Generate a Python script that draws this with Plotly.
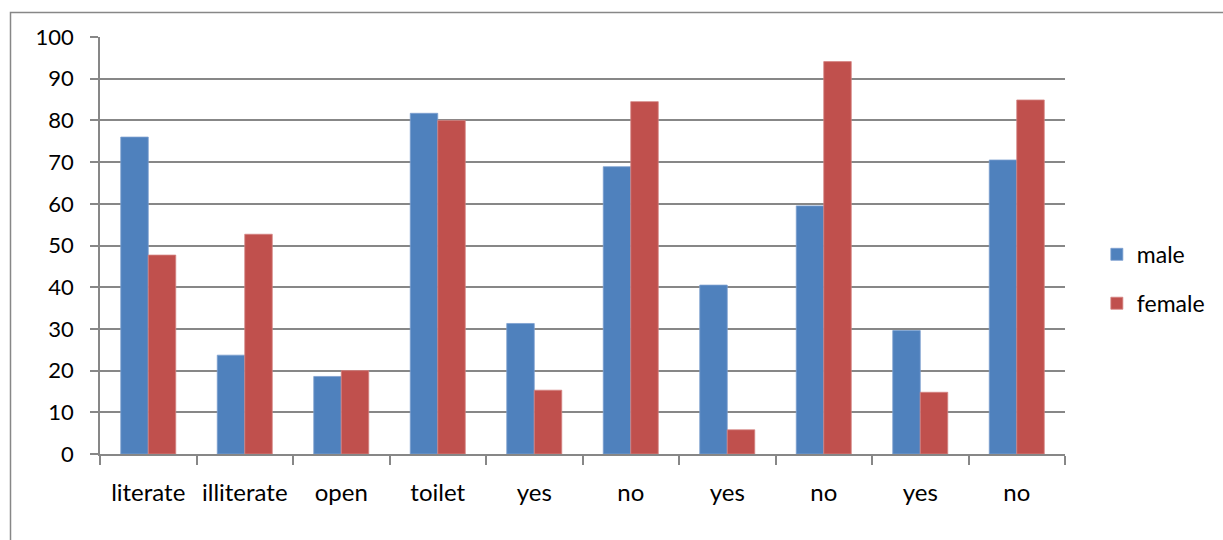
import plotly.graph_objects as go

categories = ["literate", "illiterate", "open", "toilet", "yes", "no", "yes", "no", "yes", "no"]
male = [76.0, 23.7, 18.6, 81.7, 31.3, 68.9, 40.5, 59.5, 29.6, 70.5]
female = [47.7, 52.7, 20.0, 80.0, 15.3, 84.5, 5.8, 94.1, 14.8, 84.9]
y_ticks = list(range(0, 101, 10))

x_pos = list(range(len(categories)))
GRID = "#878787"
FONT = "Lato"

fig = go.Figure()
fig.add_trace(go.Bar(x=x_pos, y=male, name="male", legendgroup="m",
                     marker=dict(color="#4F81BD", line=dict(color="#7C9FCF", width=0.8))))
fig.add_trace(go.Bar(x=x_pos, y=female, name="female", legendgroup="f",
                     marker=dict(color="#C0504D", line=dict(color="#D48381", width=0.8))))

fig.update_layout(
    width=1223, height=540,
    margin=dict(l=100, r=158, t=37, b=86),
    paper_bgcolor="white", plot_bgcolor="white",
    barmode="group", bargap=0.43, bargroupgap=0,
    font=dict(family=FONT, size=22, color="black"),
    legend=dict(x=1.033, xanchor="left", y=0.42, yanchor="middle",
                tracegroupgap=16, font=dict(family=FONT, size=23)),
    xaxis=dict(range=[-0.5, len(categories) - 0.5], tickmode="array", tickvals=x_pos,
               ticktext=categories, ticks="", showgrid=False, zeroline=False,
               showline=True, linecolor=GRID, linewidth=1.5,
               ticklabelstandoff=16, tickfont=dict(family=FONT, size=24),
               minor=dict(tickmode="array", tickvals=[i - 0.5 for i in range(len(categories) + 1)],
                          ticks="outside", ticklen=9, tickcolor=GRID, tickwidth=1.5, showgrid=False)),
    yaxis=dict(range=[0, 100], tickmode="array", tickvals=y_ticks, ticks="outside", ticklen=8,
               tickcolor=GRID, tickwidth=1.5, showgrid=True, gridcolor=GRID, gridwidth=1.5,
               showline=True, linecolor=GRID, linewidth=1.5, zeroline=False,
               ticklabelstandoff=12, tickfont=dict(family=FONT, size=22)),
    shapes=[dict(type="rect", xref="paper", yref="paper",
                 x0=(10.5 - 100) / 965, x1=1.3, y0=-0.4, y1=(454 - 12.5) / 417,
                 line=dict(color=GRID, width=1.5), layer="below")],
)

fig.write_html("out.html")
